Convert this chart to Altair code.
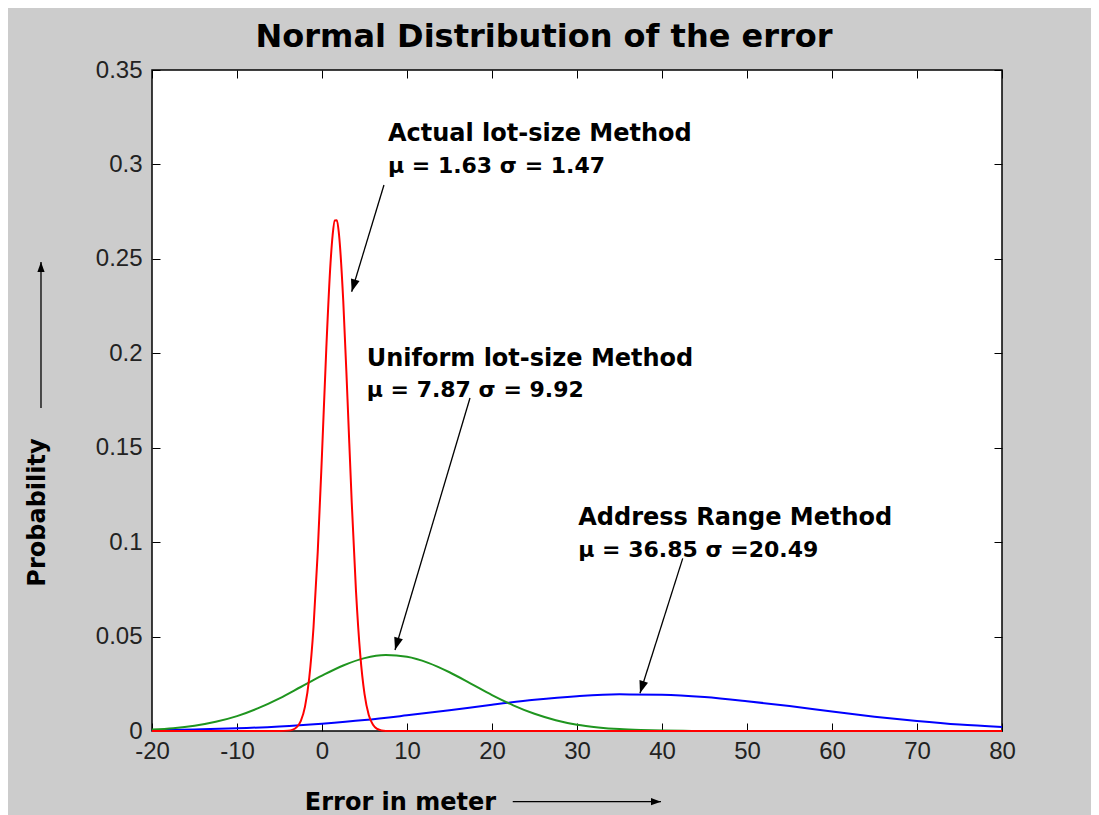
import altair as alt
import pandas as pd

# ---------------- data ----------------
red_x = [-20, -10, -5, -4, -3.5, -3, -2.5, -2, -1.5, -1,
         -0.5, 0, 0.5, 1, 1.25, 1.5, 1.75, 2, 2.5, 3,
         3.5, 4, 4.5, 5, 5.5, 6, 6.5, 7, 8, 10,
         20, 30, 40, 50, 60, 70, 80]
red_y = [0, 0, 0, 0.0002, 0.0006, 0.0019, 0.0052, 0.0129, 0.0281, 0.0548,
         0.0950, 0.1467, 0.2019, 0.2476, 0.2625, 0.2703, 0.2705, 0.2629, 0.2278, 0.1758,
         0.1209, 0.0740, 0.0404, 0.0196, 0.0085, 0.0033, 0.0011, 0.0003, 0, 0,
         0, 0, 0, 0, 0, 0, 0]

green_x = [-20, -17.5, -15, -12.5, -10, -7.5, -5, -2.5, 0, 2.5,
           5, 7.5, 10, 12.5, 15, 17.5, 20, 22.5, 25, 27.5,
           30, 32.5, 35, 37.5, 40, 42.5, 45, 50, 55, 60,
           65, 70, 75, 80]
green_y = [0.0008, 0.0015, 0.0028, 0.0049, 0.0079, 0.0121, 0.0173, 0.0233, 0.0293, 0.0347,
           0.0386, 0.0402, 0.0393, 0.0361, 0.0311, 0.0251, 0.0190, 0.0136, 0.0091, 0.0057,
           0.0033, 0.0019, 0.0010, 0.0005, 0.0002, 0.0001, 0, 0, 0, 0,
           0, 0, 0, 0]

blue_x = [-20, -15, -10, -5, 0, 5, 10, 15, 20, 25, 30,
          35, 40, 45, 50, 55, 60, 65, 70, 75, 80]
blue_y = [0.0004, 0.0008, 0.0014, 0.0024, 0.0039, 0.0058, 0.0083, 0.0110, 0.0139, 0.0165, 0.0184,
          0.0194, 0.0192, 0.0180, 0.0158, 0.0132, 0.0103, 0.0076, 0.0053, 0.0034, 0.0021]

x_ticks = [-20, -10, 0, 10, 20, 30, 40, 50, 60, 70, 80]
y_ticks = [0, 0.05, 0.1, 0.15, 0.2, 0.25, 0.3, 0.35]

title_text = ["Normal Distribution of the error"]
title_x = [26.12]
title_y = [0.3622]
x_title = "Error in meter"
y_title = "Probability"

# annotation texts and their anchor points (data units)
head_text = ["Actual lot-size Method", "Uniform lot-size Method", "Address Range Method"]
param_text = ["\u03bc = 1.63 \u03c3 = 1.47", "\u03bc = 7.87 \u03c3 = 9.92", "\u03bc = 36.85 \u03c3 =20.49"]
head_x = [7.76, 5.26, 30.15]
head_y = [0.3124, 0.1933, 0.1091]
param_y = [0.2955, 0.1770, 0.0921]

# annotation arrows: start -> tip (data units)
arr_x = [7.29, 17.41, 42.44]
arr_y = [0.2891, 0.1763, 0.0914]
arr_x2 = [3.49, 8.59, 37.41]
arr_y2 = [0.2326, 0.0429, 0.0200]
arr_angle = [196.8, 196.6, 197.6]

# axis-title arrows outside the frame (data units)
ax_arr_x = [22.44, -33.06]
ax_arr_y = [-0.0374, 0.1710]
ax_arr_x2 = [39.88, -33.06]
ax_arr_y2 = [-0.0374, 0.2483]
ax_arr_angle = [90, 0]

# ---------------- tables ----------------
red_df = pd.DataFrame({"x": red_x, "y": red_y})
green_df = pd.DataFrame({"x": green_x, "y": green_y})
blue_df = pd.DataFrame({"x": blue_x, "y": blue_y})
title_df = pd.DataFrame({"x": title_x, "y": title_y, "t": title_text})
head_df = pd.DataFrame({"x": head_x, "y": head_y, "t": head_text})
param_df = pd.DataFrame({"x": head_x, "y": param_y, "t": param_text})
arr_df = pd.DataFrame({"x": arr_x, "y": arr_y, "x2": arr_x2, "y2": arr_y2, "a": arr_angle})
ax_arr_df = pd.DataFrame({"x": ax_arr_x, "y": ax_arr_y, "x2": ax_arr_x2, "y2": ax_arr_y2, "a": ax_arr_angle})

W, H = 850, 661
xs = alt.Scale(domain=[-20, 80], nice=False, zero=False)
ys = alt.Scale(domain=[0, 0.35], nice=False)

LABEL_FONT = "Liberation Sans"
BOLD_FONT = "DejaVu Sans"

main_x_axis = alt.Axis(
    orient="bottom", values=x_ticks, ticks=False, tickSize=0, domain=False, grid=False,
    labelFont=LABEL_FONT, labelFontSize=24, labelColor="#222222", labelPadding=8,
    labelExpr="'' + datum.value", labelFlush=False, labelOverlap=False,
    title=x_title, titleFont=BOLD_FONT, titleFontSize=24, titleFontWeight="bold",
    titleColor="black", titleX=248, titleY=71, titleAlign="center", titleBaseline="middle",
    titleAnchor="start",
)
main_y_axis = alt.Axis(
    orient="left", values=y_ticks, ticks=False, tickSize=0, domain=False, grid=False,
    labelFont=LABEL_FONT, labelFontSize=24, labelColor="#222222", labelPadding=10,
    labelExpr="'' + datum.value", labelFlush=False, labelOverlap=False,
    title=y_title, titleFont=BOLD_FONT, titleFontSize=24, titleFontWeight="bold",
    titleColor="black", titleX=-115, titleY=442, titleAngle=270,
    titleAlign="center", titleBaseline="middle", titleAnchor="start",
)


def tick_axis(orient, offset, values):
    return alt.Axis(orient=orient, offset=offset, values=values, labels=False,
                    ticks=True, tickSize=8, tickColor="black", tickWidth=1,
                    domain=False, grid=False, title=None)


blue_line = alt.Chart(blue_df).mark_line(color="#0000ff", strokeWidth=2, interpolate="monotone").encode(
    x=alt.X("x:Q", scale=xs, axis=main_x_axis),
    y=alt.Y("y:Q", scale=ys, axis=main_y_axis),
)
green_line = alt.Chart(green_df).mark_line(color="#1f951f", strokeWidth=2, interpolate="monotone").encode(
    x=alt.X("x:Q", scale=xs, axis=tick_axis("top", -H, x_ticks)),
    y=alt.Y("y:Q", scale=ys, axis=tick_axis("right", -W, y_ticks)),
)
red_line = alt.Chart(red_df).mark_line(color="#ff0000", strokeWidth=2, interpolate="monotone").encode(
    x=alt.X("x:Q", scale=xs, axis=tick_axis("bottom", -H, x_ticks)),
    y=alt.Y("y:Q", scale=ys, axis=tick_axis("left", -W, y_ticks)),
)

title_mark = alt.Chart(title_df).mark_text(
    font=BOLD_FONT, fontSize=32, fontWeight="bold", color="black", align="center", baseline="alphabetic"
).encode(x=alt.X("x:Q", scale=xs, axis=None), y=alt.Y("y:Q", scale=ys, axis=None), text="t:N")

heads = alt.Chart(head_df).mark_text(
    font=BOLD_FONT, fontSize=24, fontWeight="bold", color="black", align="left", baseline="alphabetic"
).encode(x=alt.X("x:Q", scale=xs, axis=None), y=alt.Y("y:Q", scale=ys, axis=None), text="t:N")

params = alt.Chart(param_df).mark_text(
    font=BOLD_FONT, fontSize=22, fontWeight="bold", color="black", align="left", baseline="alphabetic"
).encode(x=alt.X("x:Q", scale=xs, axis=None), y=alt.Y("y:Q", scale=ys, axis=None), text="t:N")

ARROW = "M0,0L-0.36,1L0.36,1Z"

arr_lines = alt.Chart(arr_df).mark_rule(color="black", strokeWidth=1.3).encode(
    x=alt.X("x:Q", scale=xs, axis=None), y=alt.Y("y:Q", scale=ys, axis=None), x2="x2:Q", y2="y2:Q"
)
arr_heads = alt.Chart(arr_df).mark_point(shape=ARROW, filled=True, size=620, color="black", opacity=1, strokeWidth=0).encode(
    x=alt.X("x2:Q", scale=xs, axis=None), y=alt.Y("y2:Q", scale=ys, axis=None), angle=alt.Angle("a:Q", scale=None)
)

ax_lines = alt.Chart(ax_arr_df).mark_rule(color="black", strokeWidth=1.3).encode(
    x=alt.X("x:Q", scale=xs, axis=None), y=alt.Y("y:Q", scale=ys, axis=None), x2="x2:Q", y2="y2:Q"
)
ax_heads = alt.Chart(ax_arr_df).mark_point(shape=ARROW, filled=True, size=400, color="black", opacity=1, strokeWidth=0).encode(
    x=alt.X("x2:Q", scale=xs, axis=None), y=alt.Y("y2:Q", scale=ys, axis=None), angle=alt.Angle("a:Q", scale=None)
)

chart = alt.layer(
    blue_line, green_line, red_line, title_mark, heads, params, arr_lines, arr_heads, ax_lines, ax_heads
).resolve_axis(
    x="independent", y="independent"
).properties(
    width=W, height=H,
    autosize=alt.AutoSizeParams(type="none"),
    padding={"left": 144, "top": 62, "right": 89, "bottom": 84},
    background="#cccccc",
).configure_view(
    fill="white", stroke="black", strokeWidth=1.5
)

chart.save("out.html", embed_options={"renderer": "svg", "actions": False})
